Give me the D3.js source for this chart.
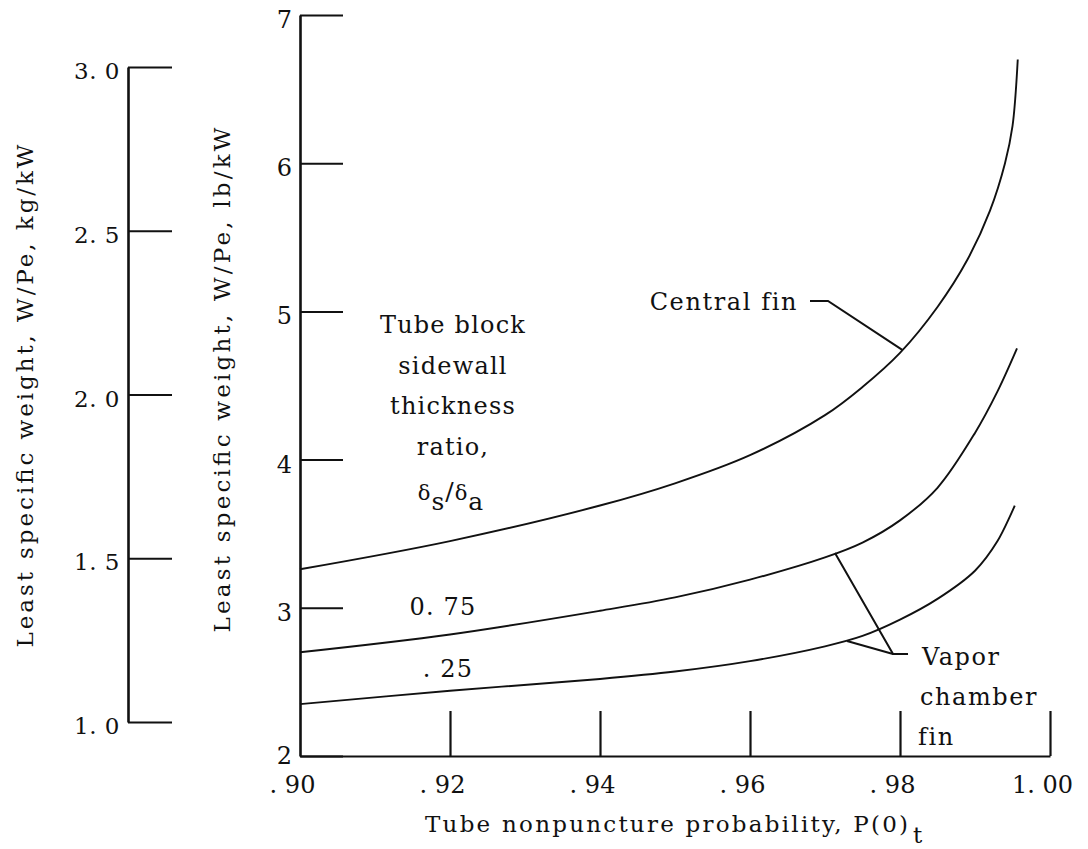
<!DOCTYPE html>
<html>
<head>
<meta charset="utf-8">
<script src="https://cdn.jsdelivr.net/npm/d3@7"></script>
<style>
  body { margin: 0; background: #fff; }
  svg { display: block; }
  text { font-family: "DejaVu Serif", "Liberation Serif", serif; fill: #111; }
</style>
</head>
<body>
<svg id="chart" width="1088" height="849"></svg>
<script>
// tube nonpuncture probability (x) vs least specific weight, lb/kW (y)
var centralP = [0.900, 0.920, 0.940, 0.950, 0.960, 0.970, 0.975, 0.980, 0.985, 0.989, 0.992, 0.994, 0.995, 0.9957]
var centralW = [3.26, 3.45, 3.69, 3.84, 4.03, 4.30, 4.49, 4.72, 5.03, 5.35, 5.68, 6.00, 6.25, 6.70]

var ratio75P = [0.900, 0.920, 0.940, 0.950, 0.960, 0.970, 0.975, 0.980, 0.985, 0.990, 0.993, 0.9956]
var ratio75W = [2.70, 2.82, 2.98, 3.07, 3.19, 3.34, 3.44, 3.59, 3.81, 4.18, 4.46, 4.75]

var ratio25P = [0.900, 0.920, 0.940, 0.950, 0.960, 0.970, 0.975, 0.980, 0.985, 0.990, 0.993, 0.9953]
var ratio25W = [2.35, 2.44, 2.52, 2.57, 2.64, 2.74, 2.81, 2.92, 3.06, 3.25, 3.45, 3.69]

var xTicks = [0.90, 0.92, 0.94, 0.96, 0.98, 1.00]
var xTickLabels = [". 90", ". 92", ". 94", ". 96", ". 98", "1. 00"]
var lbTicks = [2, 3, 4, 5, 6, 7]
var kgTicks = [1.0, 1.5, 2.0, 2.5, 3.0]
var kgTickLabels = ["1. 0", "1. 5", "2. 0", "2. 5", "3. 0"]

var svg = d3.select("#chart")

var x = d3.scaleLinear().domain([0.90, 1.00]).range([300, 1050])
var y = d3.scaleLinear().domain([2, 7]).range([756, 15])
var yKg = d3.scaleLinear().domain([1, 3]).range([722, 67])

// kg/kW axis on the far left
var kgAxis = svg.append("g")
  .attr("transform", "translate(128,0)")
  .call(d3.axisLeft(yKg).tickValues(kgTicks).tickSize(-44).tickSizeOuter(0).tickPadding(8)
    .tickFormat(function(d, i) { return kgTickLabels[i] }))
kgAxis.selectAll("path").attr("stroke", "#111").attr("stroke-width", 2.6)
kgAxis.selectAll("line").attr("stroke", "#111").attr("stroke-width", 2)
kgAxis.selectAll("text").attr("font-size", 23).attr("dy", "0.5em").attr("fill", "#111")
  .style("font-family", "DejaVu Serif").style("letter-spacing", "0.5px")

// lb/kW axis
var lbAxis = svg.append("g")
  .attr("transform", "translate(300,0)")
  .call(d3.axisLeft(y).tickValues(lbTicks).tickSize(-43).tickSizeOuter(0).tickPadding(8)
    .tickFormat(d3.format("d")))
lbAxis.selectAll("path").attr("stroke", "#111").attr("stroke-width", 2.6)
lbAxis.selectAll("line").attr("stroke", "#111").attr("stroke-width", 2)
lbAxis.selectAll("text").attr("font-size", 24).attr("fill", "#111")
  .attr("dy", function(d) { return d === 2 ? "0.3em" : "0.52em" })
  .style("font-family", "DejaVu Serif")

// probability axis
var xAxis = svg.append("g")
  .attr("transform", "translate(0,756)")
  .call(d3.axisBottom(x).tickValues(xTicks).tickSize(-45).tickSizeOuter(0).tickPadding(20)
    .tickFormat(function(d, i) { return xTickLabels[i] }))
xAxis.selectAll("path").attr("stroke", "#111").attr("stroke-width", 2.2)
xAxis.selectAll("line").attr("stroke", "#111").attr("stroke-width", 2.2)
xAxis.selectAll(".tick").filter(function(d) { return d === 0.90 }).select("line").remove()
xAxis.selectAll("text").attr("font-size", 24).attr("dx", -8).attr("fill", "#111")
  .style("font-family", "DejaVu Serif")

// axis titles
svg.append("text")
  .attr("transform", "translate(33,396) rotate(-90)")
  .attr("text-anchor", "middle")
  .attr("font-size", 23)
  .attr("textLength", 503).attr("lengthAdjust", "spacing")
  .text("Least specific weight,  W/Pe,  kg/kW")

svg.append("text")
  .attr("transform", "translate(230,380) rotate(-90)")
  .attr("text-anchor", "middle")
  .attr("font-size", 23)
  .attr("textLength", 505).attr("lengthAdjust", "spacing")
  .text("Least specific weight,  W/Pe,  lb/kW")

svg.append("text")
  .attr("x", 425).attr("y", 832)
  .attr("font-size", 23)
  .attr("textLength", 483).attr("lengthAdjust", "spacing")
  .text("Tube nonpuncture probability,  P(0)")
svg.append("text")
  .attr("x", 913).attr("y", 843)
  .attr("font-size", 23)
  .text("t")

// curves
var line = d3.line()
  .x(function(d) { return x(d[0]) })
  .y(function(d) { return y(d[1]) })
  .curve(d3.curveCatmullRom.alpha(0.5))

var series = [
  d3.zip(centralP, centralW),
  d3.zip(ratio75P, ratio75W),
  d3.zip(ratio25P, ratio25W)
]

svg.selectAll(".curve")
  .data(series)
  .enter().append("path")
  .attr("class", "curve")
  .attr("d", line)
  .attr("fill", "none")
  .attr("stroke", "#111")
  .attr("stroke-width", 1.9)

// leader lines
var straight = d3.line()
  .x(function(d) { return x(d[0]) })
  .y(function(d) { return y(d[1]) })

var leaders = [
  [[0.9680, 5.07], [0.9704, 5.07], [0.9803, 4.74]],
  [[0.98107, 2.688], [0.97907, 2.688], [0.97133, 3.37]],
  [[0.97907, 2.688], [0.97293, 2.776]]
]
svg.selectAll(".leader")
  .data(leaders)
  .enter().append("path")
  .attr("class", "leader")
  .attr("d", straight)
  .attr("fill", "none")
  .attr("stroke", "#111")
  .attr("stroke-width", 2)

// annotations
svg.append("text")
  .attr("x", x(0.9664)).attr("y", y(5.01))
  .attr("text-anchor", "end")
  .attr("font-size", 24).style("letter-spacing", "1.6px")
  .text("Central fin")

var vaporLines = ["Vapor", "chamber", "fin"]
svg.selectAll(".vapor")
  .data(vaporLines)
  .enter().append("text")
  .attr("class", "vapor")
  .attr("x", function(d, i) { return x(0.98293) - i * 2 })
  .attr("y", function(d, i) { return 665 + i * 40 })
  .attr("font-size", 24).style("letter-spacing", "1.6px")
  .text(function(d) { return d })

var blockLines = ["Tube block", "sidewall", "thickness", "ratio,"]
svg.selectAll(".block")
  .data(blockLines)
  .enter().append("text")
  .attr("class", "block")
  .attr("x", 453)
  .attr("y", function(d, i) { return 333 + i * 40.7 })
  .attr("text-anchor", "middle")
  .attr("font-size", 24).style("letter-spacing", "1.2px")
  .text(function(d) { return d })

var ratioText = svg.append("text")
  .attr("x", 451).attr("y", 500)
  .attr("text-anchor", "middle")
  .attr("font-size", 25).style("letter-spacing", "1px")
ratioText.append("tspan").attr("font-size", 21).text("δ")
ratioText.append("tspan").attr("dy", 10).text("s")
ratioText.append("tspan").attr("dy", -10).text("/")
ratioText.append("tspan").attr("font-size", 21).text("δ")
ratioText.append("tspan").attr("dy", 10).text("a")

svg.append("text")
  .attr("x", 443).attr("y", 615)
  .attr("text-anchor", "middle")
  .attr("font-size", 24).style("letter-spacing", "1.2px")
  .text("0. 75")

svg.append("text")
  .attr("x", 448).attr("y", 677)
  .attr("text-anchor", "middle")
  .attr("font-size", 24).style("letter-spacing", "1.2px")
  .text(". 25")
</script>
</body>
</html>
